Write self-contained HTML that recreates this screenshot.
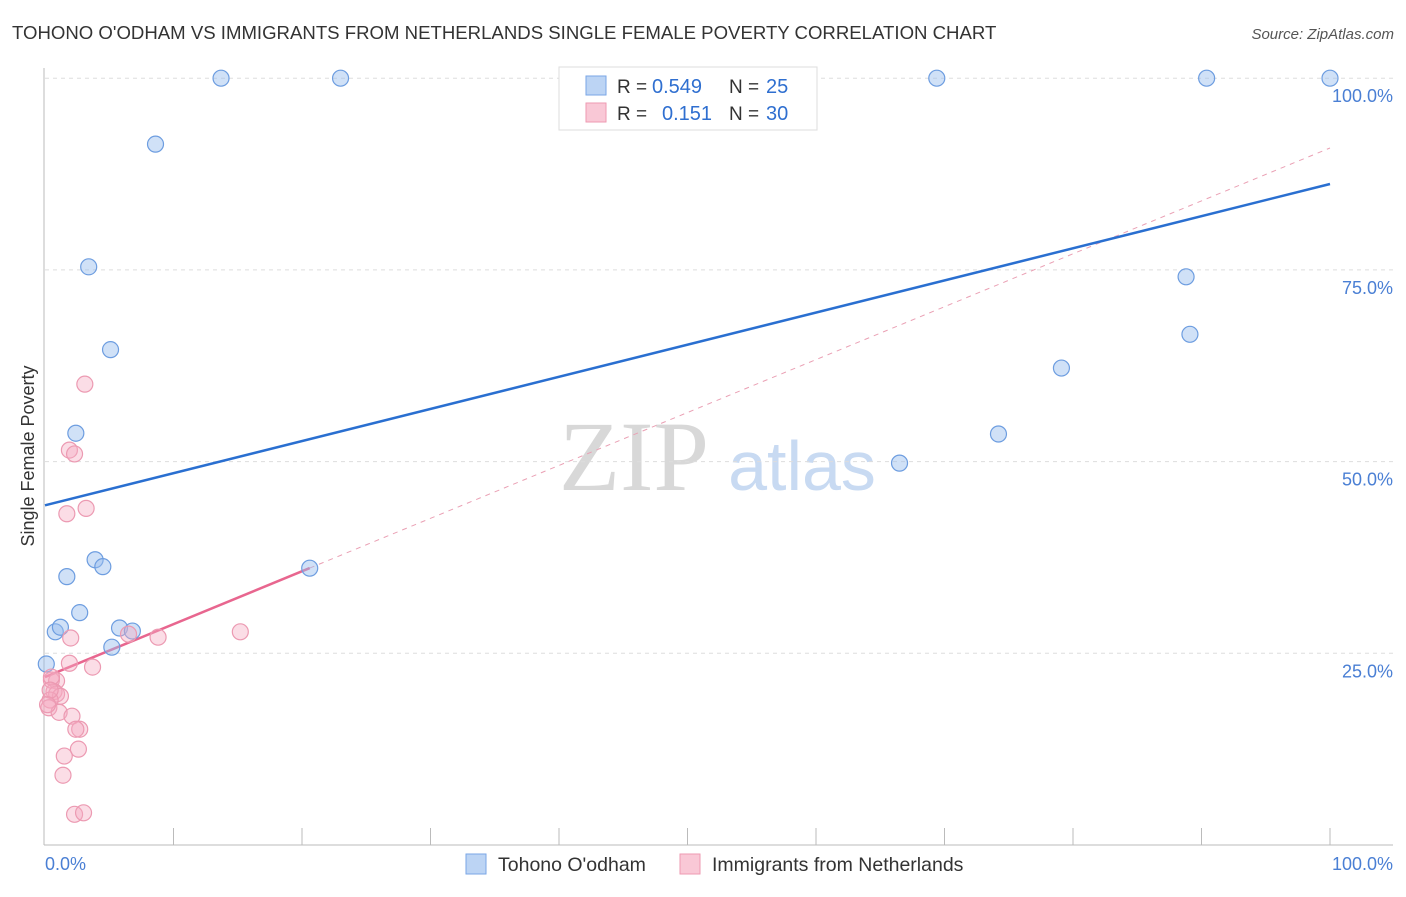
<!DOCTYPE html>
<html><head><meta charset="utf-8"><style>
body{margin:0;background:#fff;font-family:"Liberation Sans",sans-serif;}
</style></head><body>
<svg width="1406" height="892" xmlns="http://www.w3.org/2000/svg" style="font-family:'Liberation Sans',sans-serif">
<text x="12" y="39" font-size="18.6" fill="#333">TOHONO O'ODHAM VS IMMIGRANTS FROM NETHERLANDS SINGLE FEMALE POVERTY CORRELATION CHART</text>
<text x="1394" y="39" font-size="15" fill="#555" font-style="italic" text-anchor="end">Source: ZipAtlas.com</text>
<text x="634" y="490" font-size="100" fill="#d8d8d8" style="font-family:'Liberation Serif',serif" text-anchor="middle">ZIP</text>
<text x="802" y="490" font-size="70" fill="#c8daf2" text-anchor="middle">atlas</text>
<g id="grid"></g>
<line x1="44" y1="68" x2="44" y2="845" stroke="#bbb"/>
<line x1="44" y1="845" x2="1393" y2="845" stroke="#bbb"/>
<text x="34" y="456" font-size="18" fill="#333" text-anchor="middle" transform="rotate(-90 34 456)">Single Female Poverty</text>
<text x="45" y="870" font-size="18" fill="#4a7fd4">0.0%</text>
<text x="1393" y="870" font-size="18" fill="#4a7fd4" text-anchor="end">100.0%</text>
<g id="lines"></g>
<g id="pts"></g>
<g>
<rect x="559" y="67" width="258" height="63" fill="#fff" stroke="#ddd"/>
<rect x="586" y="76" width="20" height="19" fill="#bcd4f4" stroke="#7aa6e6"/>
<text x="617" y="93" font-size="19" fill="#333">R =</text>
<text x="652" y="93" font-size="20" fill="#2f6fd0">0.549</text>
<text x="729" y="93" font-size="19" fill="#333">N =</text>
<text x="766" y="93" font-size="20" fill="#2f6fd0">25</text>
<rect x="586" y="103" width="20" height="19" fill="#f9c8d6" stroke="#ee9ab2"/>
<text x="617" y="120" font-size="19" fill="#333">R =</text>
<text x="662" y="120" font-size="20" fill="#2f6fd0">0.151</text>
<text x="729" y="120" font-size="19" fill="#333">N =</text>
<text x="766" y="120" font-size="20" fill="#2f6fd0">30</text>
</g>
<g>
<rect x="466" y="854" width="20" height="20" fill="#bcd4f4" stroke="#7aa6e6"/>
<text x="498" y="871" font-size="19.5" fill="#333">Tohono O'odham</text>
<rect x="680" y="854" width="20" height="20" fill="#f9c8d6" stroke="#ee9ab2"/>
<text x="712" y="871" font-size="19.5" fill="#333">Immigrants from Netherlands</text>
</g>
</svg>
<script>
const yTicks=[25,50,75,100];
const yTickLabels=["25.0%","50.0%","75.0%","100.0%"];
const xTicks=[10,20,30,40,50,60,70,80,90,100];
const blueX=[13.7,23.0,69.4,90.4,100,8.6,3.4,5.1,2.4,3.9,4.5,1.7,2.7,0.8,1.2,5.8,6.8,5.2,0.1,20.6,66.5,74.2,79.1,88.8,89.1];
const blueY=[100,100,100,100,100,91.4,75.4,64.6,53.7,37.2,36.3,35.0,30.3,27.8,28.4,28.3,27.9,25.8,23.6,36.1,49.8,53.6,62.2,74.1,66.6];
const pinkX=[3.1,1.9,2.3,1.7,3.2,2.0,8.8,15.2,1.9,3.7,0.5,0.9,0.7,0.9,1.2,0.4,0.3,1.1,2.1,2.7,2.4,2.6,1.5,1.4,2.3,3.0,6.5,0.5,0.4,0.2];
const pinkY=[60.1,51.5,51.0,43.2,43.9,27.0,27.1,27.8,23.7,23.2,21.5,21.4,20.0,19.7,19.4,18.9,17.9,17.3,16.8,15.1,15.1,12.5,11.6,9.1,4.0,4.2,27.5,21.9,20.2,18.3];
const blueTrend=[44.3,86.2];
const pinkTrend=[21.9,90.9];
const pinkSolidEnd=20.6;
const NS="http://www.w3.org/2000/svg";
const sx=v=>45+v*12.85, sy=v=>845-v*7.668;
function mk(t,a,p){const e=document.createElementNS(NS,t);for(const k in a)e.setAttribute(k,a[k]);p.appendChild(e);return e;}
const grid=document.getElementById('grid');
yTicks.forEach((t,i)=>{
 const l=mk('line',{x1:45,x2:1393,y1:sy(t),y2:sy(t),stroke:'#ddd','stroke-dasharray':'4,4'},grid);
 
 
 const tx=mk('text',{x:1393,y:sy(t)+24,'font-size':18,fill:'#4a7fd4','text-anchor':'end'},grid);
 tx.textContent=yTickLabels[i];
 
 
});
xTicks.forEach(t=>{
 const l=mk('line',{x1:sx(t),x2:sx(t),y1:828,y2:845,stroke:'#bbb'},grid);
 
 
});
const lines=document.getElementById('lines');
const pf=x=>pinkTrend[0]+(pinkTrend[1]-pinkTrend[0])*x/100;
const bf=x=>blueTrend[0]+(blueTrend[1]-blueTrend[0])*x/100;
let e=mk('line',{x1:sx(pinkSolidEnd),y1:sy(pf(pinkSolidEnd)),x2:sx(100),y2:sy(pf(100)),stroke:'#eaa0b4','stroke-dasharray':'5,5','stroke-width':1},lines);


e=mk('line',{x1:sx(0),y1:sy(bf(0)),x2:sx(100),y2:sy(bf(100)),stroke:'#2a6fd0','stroke-width':2.5},lines);


e=mk('line',{x1:sx(0),y1:sy(pf(0)),x2:sx(pinkSolidEnd),y2:sy(pf(pinkSolidEnd)),stroke:'#e8668f','stroke-width':2.5},lines);


const pts=document.getElementById('pts');
blueX.forEach((x,i)=>{
 const c=mk('circle',{cx:sx(x),cy:sy(blueY[i]),r:8,fill:'rgba(150,188,238,0.45)',stroke:'#6d9de0','stroke-width':1.2},pts);
 
 
});
pinkX.forEach((x,i)=>{
 const c=mk('circle',{cx:sx(x),cy:sy(pinkY[i]),r:8,fill:'rgba(246,170,192,0.4)',stroke:'#ec9ab2','stroke-width':1.2},pts);
 
 
});
</script>
</body></html>
